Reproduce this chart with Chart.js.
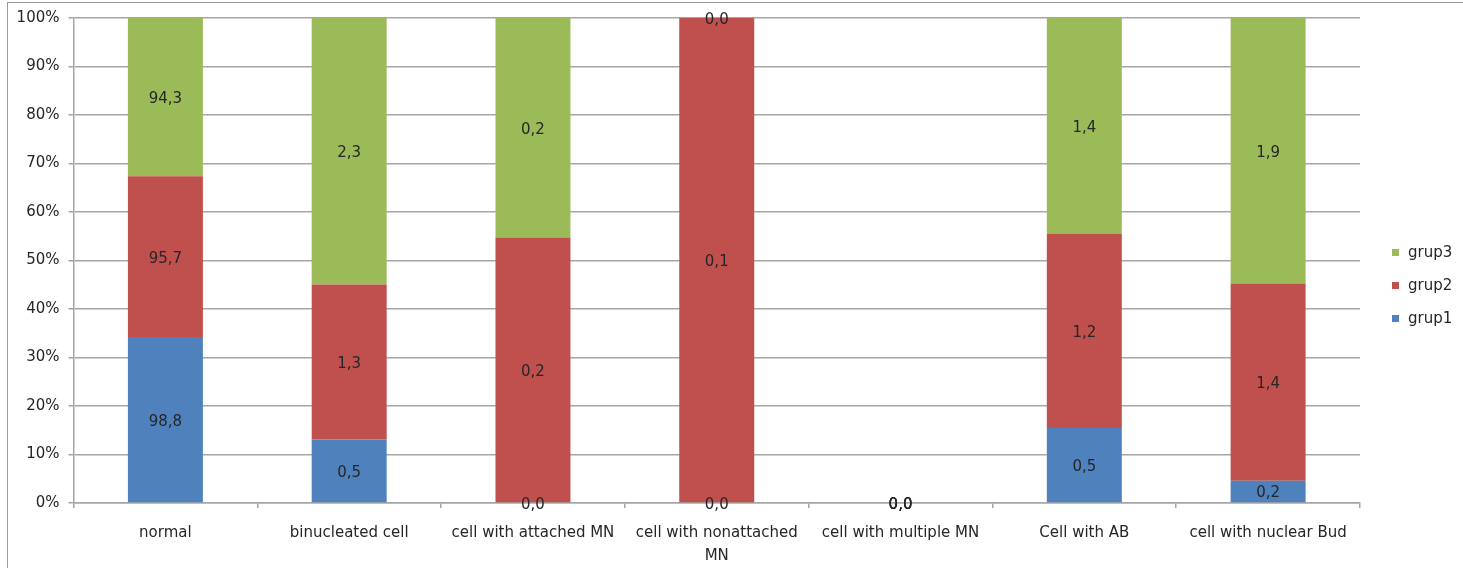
<!DOCTYPE html>
<html>
<head>
<meta charset="utf-8">
<script src="https://cdn.jsdelivr.net/npm/chart.js@4.4.1/dist/chart.umd.min.js"></script>
<style>
  html, body { margin: 0; padding: 0; background: #fff; }
  #wrap { width: 1463px; height: 568px; }
</style>
</head>
<body>
<div id="wrap"><canvas id="c" width="1463" height="568"></canvas></div>
<script>
const categories = ['normal', 'binucleated cell', 'cell with attached MN', ['cell with nonattached', 'MN'], 'cell with multiple MN', 'Cell with AB', 'cell with nuclear Bud'];
const grup1 = [98.8, 0.54, 0, 0, 0, 0.48, 0.16];
const grup2 = [95.7, 1.32, 0.23, 0.1, 0, 1.24, 1.42];
const grup3 = [94.3, 2.27, 0.19, 0, 0, 1.38, 1.91];
const seriesNames = ['grup1', 'grup2', 'grup3'];
const seriesColors = ['#4F81BD', '#C0504D', '#9BBB59'];
const yTicks = [0, 10, 20, 30, 40, 50, 60, 70, 80, 90, 100];

const raw = [grup1, grup2, grup3];
const totals = categories.map((_, i) => grup1[i] + grup2[i] + grup3[i]);
const pct = raw.map(s => s.map((v, i) => totals[i] ? v / totals[i] * 100 : 0));

const FONT = '"DejaVu Sans", sans-serif';
const FS = 15;
const TEXT = '#262626';
const GRID = '#a6a6a6';

const frame = {
  id: 'frame',
  beforeDraw(chart) {
    const ctx = chart.ctx;
    ctx.save();
    ctx.fillStyle = '#fff';
    ctx.fillRect(0, 0, chart.width, chart.height);
    ctx.strokeStyle = '#9a9a9a';
    ctx.lineWidth = 1;
    ctx.strokeRect(7.5, 2.5, chart.width + 20, chart.height + 20);
    ctx.restore();
  }
};

const labels = {
  id: 'valueLabels',
  afterDatasetsDraw(chart) {
    const ctx = chart.ctx;
    ctx.save();
    ctx.font = FS + 'px ' + FONT;
    ctx.fillStyle = TEXT;
    ctx.textAlign = 'center';
    ctx.textBaseline = 'middle';
    chart.data.datasets.forEach((ds, di) => {
      const meta = chart.getDatasetMeta(di);
      meta.data.forEach((bar, i) => {
        const v = raw[di][i];
        const txt = v.toFixed(1).replace('.', ',');
        const cy = (bar.y + bar.base) / 2 + 2;
        ctx.fillText(txt, bar.x, cy);
      });
    });
    ctx.restore();
  }
};

const legend = {
  id: 'customLegend',
  afterDraw(chart) {
    const ctx = chart.ctx;
    ctx.save();
    ctx.font = FS + 'px ' + FONT;
    ctx.textBaseline = 'middle';
    ctx.textAlign = 'left';
    const order = [2, 1, 0];
    order.forEach((si, k) => {
      const y = 253 + k * 33;
      ctx.fillStyle = seriesColors[si];
      ctx.fillRect(1392, y - 4, 7, 7);
      ctx.fillStyle = TEXT;
      ctx.fillText(seriesNames[si], 1408, y);
    });
    ctx.restore();
  }
};

new Chart(document.getElementById('c'), {
  type: 'bar',
  data: {
    labels: categories,
    datasets: raw.map((s, i) => ({
      label: seriesNames[i],
      data: pct[i],
      backgroundColor: seriesColors[i],
      borderWidth: 0,
      categoryPercentage: 1,
      barPercentage: 0.408
    }))
  },
  options: {
    responsive: false,
    animation: false,
    layout: { padding: { left: 0, right: 103, top: 16, bottom: 0 } },
    plugins: { legend: { display: false }, tooltip: { enabled: false } },
    scales: {
      x: {
        stacked: true,
        grid: { display: true, drawOnChartArea: false, offset: true, color: GRID, tickLength: 5, lineWidth: 1.5 },
        border: { color: GRID, width: 1.5 },
        ticks: { color: TEXT, font: { family: FONT, size: FS, lineHeight: 1.5 }, padding: 14, maxRotation: 0, autoSkip: false },
        afterFit(scale) { scale.height = 568 - 503; }
      },
      y: {
        stacked: true,
        min: 0, max: 100,
        afterBuildTicks(scale) { scale.ticks = yTicks.map(v => ({ value: v })); },
        grid: { color: GRID, tickLength: 5, lineWidth: 1.5 },
        border: { color: GRID, width: 1.5 },
        ticks: { color: TEXT, font: { family: FONT, size: FS }, padding: 9, callback: v => v + '%' },
        afterFit(scale) { scale.width = 73.5; }
      }
    }
  },
  plugins: [frame, labels, legend]
});
</script>
</body>
</html>
